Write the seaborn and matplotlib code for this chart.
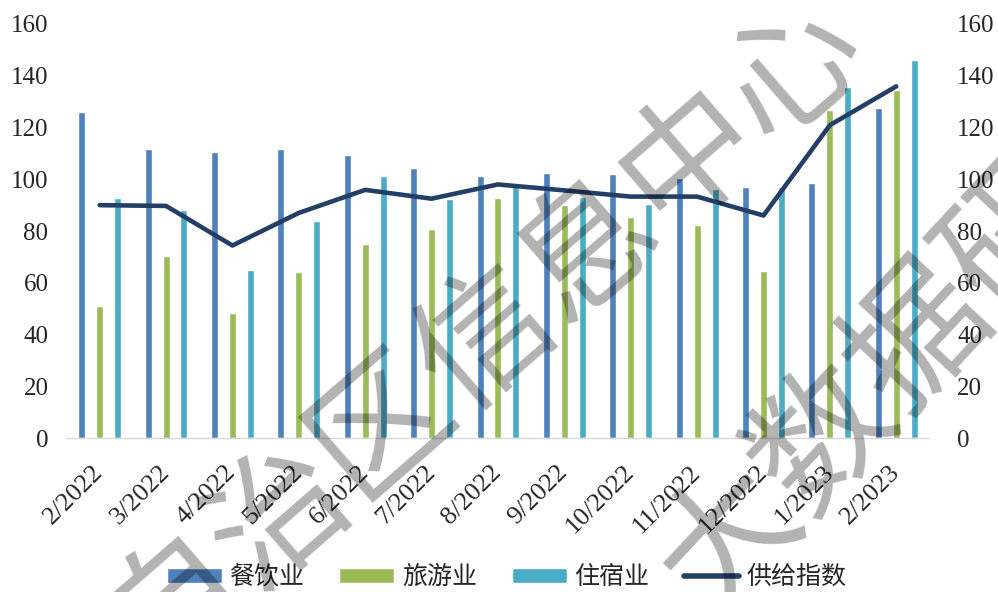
import numpy as np
import pandas as pd
import seaborn as sns
import matplotlib.pyplot as plt
import matplotlib.transforms as mtransforms
from matplotlib.patches import Patch
from matplotlib.lines import Line2D

# 月份与各行业指数
months = ["2/2022", "3/2022", "4/2022", "5/2022", "6/2022", "7/2022", "8/2022",
          "9/2022", "10/2022", "11/2022", "12/2022", "1/2023", "2/2023"]
catering = [126, 111.6, 110.6, 111.6, 109.4, 104.5, 101.3, 102.4, 101.9, 100.6, 97, 98.7, 127.4]
tourism = [51.1, 70.5, 48.3, 64, 74.8, 80.9, 92.6, 90, 85.5, 82.3, 64.5, 126.7, 134.5]
lodging = [92.6, 88, 65.1, 84, 101.3, 92.5, 98.7, 93.3, 90.6, 96.4, 97, 135.5, 146.2]
supply = [90, 89.7, 74.4, 87, 95.9, 92.5, 98, 95.7, 93.3, 93.3, 86, 120.9, 135.9]

series = ["餐饮业", "旅游业", "住宿业"]
line_name = "供给指数"
colors = ["#4F81BD", "#9BBB59", "#4BACC6"]
line_color = "#243F66"

df = pd.DataFrame({"月份": months * 3,
                   "行业": [s for s in series for _ in months],
                   "值": catering + tourism + lodging})

sns.set_theme(style="white")
plt.rcParams["font.family"] = ["Noto Sans CJK SC", "DejaVu Sans"]

fig = plt.figure(figsize=(9.98, 5.92), dpi=100)
fig.patch.set_facecolor("white")
ax = fig.add_axes([0.0666, 0.26, 0.8647, 0.6995])

sns.barplot(data=df, x="月份", y="值", hue="行业", palette=colors, order=months,
            hue_order=series, width=0.81, gap=0.61, saturation=1,
            errorbar=None, legend=False, ax=ax)

ax2 = ax.twinx()
sns.lineplot(x=np.arange(len(months)), y=supply, color=line_color, lw=3.3, ax=ax2)

for a in (ax, ax2):
    a.set_ylim(0, 160)
    a.set_yticks(range(0, 161, 20))
    a.set_xlabel("")
    a.set_ylabel("")
    for s in a.spines.values():
        s.set_visible(False)
ax.set_xlim(-0.5, len(months) - 0.5)
ax.spines["bottom"].set_visible(True)
ax.spines["bottom"].set_color("#D9D9D9")
ax.spines["bottom"].set_linewidth(1)

ax.set_xticks(range(len(months)))
ax.set_xticklabels(months, rotation=45, ha="right", va="center",
                   rotation_mode="anchor", family="Liberation Serif", fontsize=19)
offset = mtransforms.ScaledTranslation(10 / 100, 0, fig.dpi_scale_trans)
for lab in ax.get_xticklabels():
    lab.set_transform(lab.get_transform() + offset)
ax.tick_params(axis="x", length=0, pad=22)
ax.tick_params(axis="y", length=0, pad=13)
ax2.tick_params(axis="y", length=0, pad=20)
for lab in ax.get_yticklabels() + ax2.get_yticklabels():
    lab.set_family("Liberation Serif")
    lab.set_fontsize(18)

handles = [Patch(facecolor=c) for c in colors] + [Line2D([], [], color=line_color, lw=4)]
fig.legend(handles, series + [line_name], loc="center", bbox_to_anchor=(0.508, 0.025),
           ncol=4, frameon=False, fontsize=18, handlelength=2.2, handleheight=0.56,
           handletextpad=0.3, columnspacing=1.4)

# 水印
fig.text(0.484, 0.447, "自治区信息中心", rotation=41, rotation_mode="anchor",
         ha="center", va="center", fontsize=98, weight="medium",
         color="black", alpha=0.3, zorder=10)
fig.text(0.922, 0.43, "大数据研究", rotation=47, rotation_mode="anchor",
         ha="center", va="center", fontsize=100, weight="medium",
         color="black", alpha=0.3, zorder=10)

fig.savefig("out.png", dpi=100)
